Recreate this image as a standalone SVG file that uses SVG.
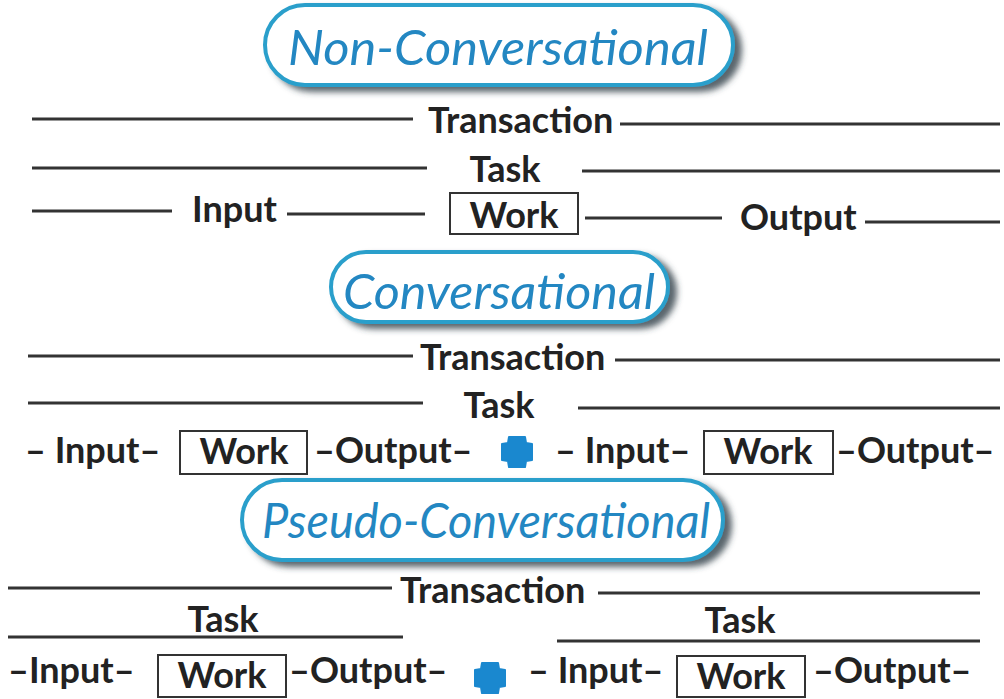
<svg xmlns="http://www.w3.org/2000/svg" xmlns:xlink="http://www.w3.org/1999/xlink" width="1004" height="699" viewBox="0 0 1004 699">
  <style>
    .bg { fill: #ffffff; }
    .pill { fill: #ffffff; stroke: #2a9fcb; stroke-width: 4; }
    .pill-text { font-family: Lato, "Liberation Sans", sans-serif; font-style: italic; font-weight: 400; font-size: 49px; fill: #2387c2; text-anchor: middle; }
    .lbl { font-family: Lato, "Liberation Sans", sans-serif; font-weight: 700; font-size: 36px; fill: #222222; }
    .mid { text-anchor: middle; }
    .box { fill: #ffffff; stroke: #333333; stroke-width: 2; }
    .rule { stroke: #333333; stroke-width: 3; fill: none; }
    .plus { fill: #1a88cf; stroke: #1a88cf; stroke-width: 2; stroke-linejoin: round; }
  </style>
  <defs>
    <filter id="shadow" x="-10%" y="-20%" width="125%" height="150%">
      <feDropShadow dx="7" dy="5" stdDeviation="3" flood-color="#333d46" flood-opacity="0.8"/>
    </filter>
    <path id="plus-shape" class="plus" d="M-8,-15 H8 L9,-9 L15,-8 V8 L9,9 L8,15 H-8 L-9,9 L-15,8 V-8 L-9,-9 Z"/>
  </defs>

  <rect class="bg" x="0" y="0" width="1004" height="699"/>

  <!-- connectors: horizontal rules -->
  <g id="connectors">
    <!-- non-conversational -->
    <line class="rule" x1="32" y1="119" x2="413" y2="119"/>
    <line class="rule" x1="620" y1="124" x2="1000" y2="124"/>
    <line class="rule" x1="32" y1="168" x2="427" y2="168"/>
    <line class="rule" x1="582" y1="171" x2="1000" y2="171"/>
    <line class="rule" x1="32" y1="211" x2="172" y2="211"/>
    <line class="rule" x1="287" y1="214" x2="425" y2="214"/>
    <line class="rule" x1="585" y1="218" x2="722" y2="218"/>
    <line class="rule" x1="865" y1="222" x2="1000" y2="222"/>
    <!-- conversational -->
    <line class="rule" x1="28" y1="356" x2="413" y2="356"/>
    <line class="rule" x1="615" y1="360" x2="1000" y2="360"/>
    <line class="rule" x1="28" y1="403" x2="423" y2="403"/>
    <line class="rule" x1="578" y1="408" x2="1000" y2="408"/>
    <!-- pseudo-conversational -->
    <line class="rule" x1="8" y1="588" x2="392" y2="588"/>
    <line class="rule" x1="598" y1="593" x2="980" y2="593"/>
    <line class="rule" x1="8" y1="637" x2="403" y2="637"/>
    <line class="rule" x1="557" y1="641" x2="980" y2="641"/>
  </g>

  <!-- Non-Conversational -->
  <g id="title-non-conversational">
    <rect class="pill" x="265" y="5" width="468" height="80" rx="40" filter="url(#shadow)"/>
    <text class="pill-text" x="498" y="65" textLength="420" lengthAdjust="spacingAndGlyphs">Non-Conversational</text>
  </g>
  <g id="nc-transaction"><text class="lbl" x="428" y="133">Transaction</text></g>
  <g id="nc-task"><text class="lbl mid" x="505" y="182">Task</text></g>
  <g id="nc-input"><text class="lbl" x="192" y="222">Input</text></g>
  <g id="nc-work">
    <rect class="box" x="450" y="193" width="128" height="41"/>
    <text class="lbl mid" x="514" y="228">Work</text>
  </g>
  <g id="nc-output"><text class="lbl" x="740" y="230">Output</text></g>

  <!-- Conversational -->
  <g id="title-conversational">
    <rect class="pill" x="331" y="252" width="337" height="70" rx="35" filter="url(#shadow)"/>
    <text class="pill-text" x="499" y="309" textLength="312" lengthAdjust="spacingAndGlyphs">Conversational</text>
  </g>
  <g id="cv-transaction"><text class="lbl" x="420" y="370">Transaction</text></g>
  <g id="cv-task"><text class="lbl mid" x="499" y="418">Task</text></g>
  <g id="cv-io-1">
    <text class="lbl" x="25" y="463">– Input–</text>
    <rect class="box" x="180" y="431" width="127" height="43"/>
    <text class="lbl mid" x="244" y="464">Work</text>
    <text class="lbl" x="314" y="463">–Output–</text>
  </g>
  <g id="cv-plus"><use xlink:href="#plus-shape" x="517" y="452"/></g>
  <g id="cv-io-2">
    <text class="lbl" x="555" y="463">– Input–</text>
    <rect class="box" x="704" y="431" width="129" height="43"/>
    <text class="lbl mid" x="768" y="464">Work</text>
    <text class="lbl" x="836" y="463">–Output–</text>
  </g>

  <!-- Pseudo-Conversational -->
  <g id="title-pseudo-conversational">
    <rect class="pill" x="242" y="480" width="481" height="80" rx="40" filter="url(#shadow)"/>
    <text class="pill-text" x="486" y="538" textLength="448" lengthAdjust="spacingAndGlyphs">Pseudo-Conversational</text>
  </g>
  <g id="pc-transaction"><text class="lbl" x="400" y="603">Transaction</text></g>
  <g id="pc-task-1"><text class="lbl mid" x="223" y="632">Task</text></g>
  <g id="pc-task-2"><text class="lbl mid" x="740" y="633">Task</text></g>
  <g id="pc-io-1">
    <text class="lbl" x="8" y="683">–Input–</text>
    <rect class="box" x="158" y="655" width="128" height="42"/>
    <text class="lbl mid" x="222" y="688">Work</text>
    <text class="lbl" x="289" y="683">–Output–</text>
  </g>
  <g id="pc-plus"><use xlink:href="#plus-shape" x="490" y="678"/></g>
  <g id="pc-io-2">
    <text class="lbl" x="528" y="683">– Input–</text>
    <rect class="box" x="677" y="656" width="128" height="41"/>
    <text class="lbl mid" x="741" y="689">Work</text>
    <text class="lbl" x="813" y="683">–Output–</text>
  </g>
</svg>
